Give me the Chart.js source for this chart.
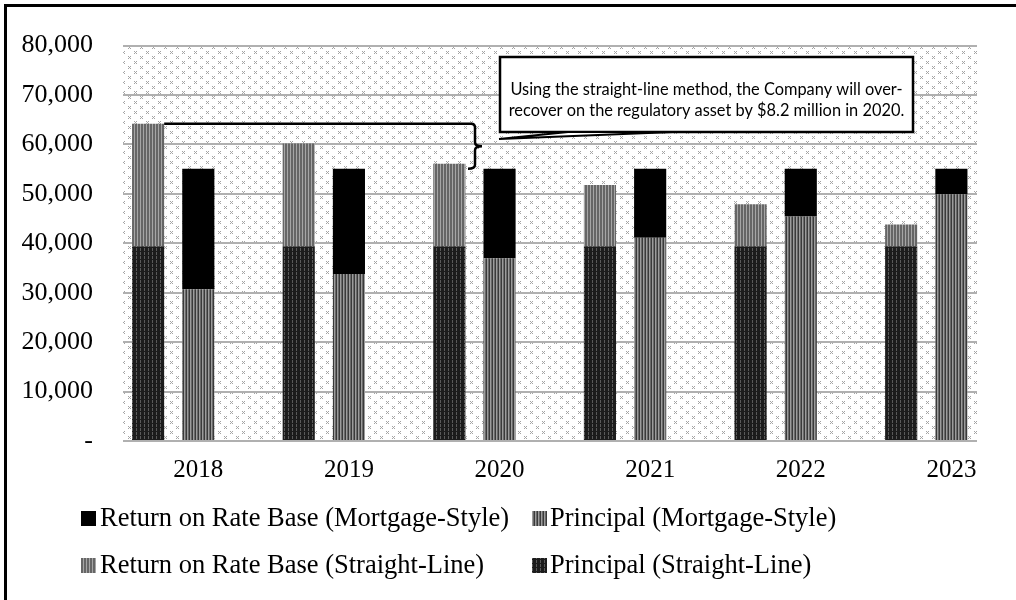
<!DOCTYPE html>
<html>
<head>
<meta charset="utf-8">
<script src="https://cdn.jsdelivr.net/npm/chart.js@4.4.0/dist/chart.umd.min.js"></script>
<style>
html, body { margin: 0; padding: 0; background: #fff; }
#wrap { width: 1016px; height: 600px; position: relative; overflow: hidden; }
</style>
</head>
<body>
<div id="wrap"><canvas id="myChart" width="1016" height="600"></canvas></div>
<script>
'use strict';

// data
const years = [2018, 2019, 2020, 2021, 2022, 2023];
const returnMortgage = [24400, 21300, 18100, 14000, 9700, 5200];
const principalMortgage = [30700, 33800, 37000, 41100, 45400, 49900];
const returnStraight = [24800, 20800, 16700, 12400, 8500, 4400];
const principalStraight = [39400, 39400, 39400, 39400, 39400, 39400];
const yMax = 80000;
const yStep = 10000;
const legendNames = [
    'Return on Rate Base (Mortgage-Style)',
    'Principal (Mortgage-Style)',
    'Return on Rate Base (Straight-Line)',
    'Principal (Straight-Line)'
];
const noteLines = [
    'Using the straight-line method, the Company will over-',
    'recover on the regulatory asset by $8.2 million in 2020.'
];

const canvas = document.getElementById('myChart');
const ctx = canvas.getContext('2d');

// small tiles used as fills
function tile(w, h, draw) {
    const c = document.createElement('canvas');
    c.width = w; c.height = h;
    draw(c.getContext('2d'));
    return ctx.createPattern(c, 'repeat');
}
function stripes(cols) {
    return tile(cols.length, 4, g => {
        cols.forEach((col, i) => { g.fillStyle = col; g.fillRect(i, 0, 1, 4); });
    });
}
const dotsBg = tile(12, 10, g => {
    g.fillStyle = '#fff'; g.fillRect(0, 0, 12, 10);
    g.fillStyle = '#a4a4a4';
    [[2, 1], [8, 6]].forEach(([x, y]) => {
        g.fillRect(x, y, 1, 1); g.fillRect(x + 2, y, 1, 1);
        g.fillRect(x + 1, y + 1, 1, 1);
        g.fillRect(x, y + 2, 1, 1); g.fillRect(x + 2, y + 2, 1, 1);
    });
});
const fillReturnMortgage = '#000';
const fillPrincipalMortgage = stripes(['#3a3a3a', '#9c9c9c', '#6a6a6a']);
const fillReturnStraight = stripes(['#666', '#666', '#a6a6a6']);
const fillPrincipalStraight = tile(4, 4, g => {
    g.fillStyle = '#1c1c1c'; g.fillRect(0, 0, 4, 4);
    g.fillStyle = '#5a5a5a'; g.fillRect(0, 0, 1, 3);
});
const legendFills = [fillReturnMortgage, fillPrincipalMortgage, fillReturnStraight, fillPrincipalStraight];

function pts(arr) {
    return years.map((yr, i) => ({ x: yr, y: arr[i] }));
}

const serif = 'Liberation Serif';

const bgPlugin = {
    id: 'bg',
    beforeDraw(chart) {
        const c = chart.ctx, a = chart.chartArea;
        c.save();
        c.fillStyle = '#fff';
        c.fillRect(0, 0, chart.width, chart.height);
        c.fillStyle = dotsBg;
        c.fillRect(a.left, a.top, a.right - a.left, a.bottom - a.top);
        c.restore();
    }
};

const extrasPlugin = {
    id: 'extras',
    afterDraw(chart) {
        const c = chart.ctx;
        const ys = chart.scales.y;
        c.save();

        // outer frame
        c.fillStyle = '#000';
        c.fillRect(4, 4, 3, 600);
        c.fillRect(4, 4, 1100, 3);

        // bracket from 2018 straight-line top to 2018 mortgage top
        const bar = chart.getDatasetMeta(1).data[0];
        const topY = ys.getPixelForValue(principalStraight[0] + returnStraight[0]);
        const botY = ys.getPixelForValue(principalMortgage[0] + returnMortgage[0]);
        const midY = (topY + botY) / 2;
        const bx = 475;
        c.strokeStyle = '#000';
        c.lineWidth = 2.5;
        c.beginPath();
        c.moveTo(bar.x + bar.width / 2, topY);
        c.lineTo(bx - 4, topY);
        c.quadraticCurveTo(bx, topY, bx, topY + 4);
        c.lineTo(bx, midY - 4);
        c.quadraticCurveTo(bx, midY, bx + 7, midY);
        c.moveTo(bx + 7, midY);
        c.quadraticCurveTo(bx, midY, bx, midY + 4);
        c.lineTo(bx, botY - 4);
        c.quadraticCurveTo(bx, botY, bx - 7, botY);
        c.stroke();

        // callout
        const box = { l: 500, t: 57, w: 413, h: 75 };
        c.fillStyle = '#fff';
        c.fillRect(box.l, box.t, box.w, box.h);
        c.lineWidth = 2.5;
        c.strokeRect(box.l, box.t, box.w, box.h);
        c.beginPath();
        c.moveTo(568, box.t + box.h);
        c.lineTo(499, 139);
        c.lineTo(673, box.t + box.h);
        c.closePath();
        c.fill();
        c.lineWidth = 2;
        c.stroke();
        c.fillStyle = '#000';
        c.font = '16px Lato';
        const w = c.measureText(noteLines[1]).width;
        const fs = 16 * 396 / w;
        c.font = fs.toFixed(2) + 'px Lato';
        c.textAlign = 'center';
        c.textBaseline = 'middle';
        c.fillText(noteLines[0], box.l + box.w / 2, 90);
        c.fillText(noteLines[1], box.l + box.w / 2, 111);

        // legend in two aligned columns
        const cols = [[81, 100], [532, 550]];
        const rows = [518, 565];
        c.textAlign = 'left';
        c.font = '26.5px "' + serif + '"';
        legendNames.forEach((name, i) => {
            const col = cols[i % 2], y = rows[Math.floor(i / 2)];
            c.fillStyle = legendFills[i];
            c.fillRect(col[0], y - 7, 15, 15);
            c.fillStyle = '#000';
            c.fillText(name, col[1], y + 1);
        });
        c.restore();
    }
};

const data = {
    datasets: [
        { label: legendNames[3], data: pts(principalStraight), stack: 'sl', backgroundColor: fillPrincipalStraight },
        { label: legendNames[2], data: pts(returnStraight), stack: 'sl', backgroundColor: fillReturnStraight },
        { label: legendNames[1], data: pts(principalMortgage), stack: 'ms', backgroundColor: fillPrincipalMortgage },
        { label: legendNames[0], data: pts(returnMortgage), stack: 'ms', backgroundColor: fillReturnMortgage },
        { label: '', data: pts(years.map(() => 0)), stack: 'pad', backgroundColor: 'rgba(0,0,0,0)' }
    ]
};

const myChart = new Chart(ctx, {
    type: 'bar',
    data: data,
    options: {
        responsive: false,
        animation: false,
        devicePixelRatio: 1,
        categoryPercentage: 1.0,
        barPercentage: 0.64,
        layout: { padding: { top: 43, right: 39, bottom: 115, left: 0 } },
        plugins: { legend: { display: false }, tooltip: { enabled: false } },
        scales: {
            x: {
                type: 'linear',
                stacked: true,
                min: years[0] - 0.5,
                max: years[years.length - 1] + 0.17,
                offset: false,
                grid: { display: false, drawTicks: false },
                border: { display: false },
                afterBuildTicks: s => { s.ticks = years.map(v => ({ value: v })); },
                afterFit: s => { s.height = 44; },
                ticks: {
                    autoSkip: false,
                    maxRotation: 0,
                    padding: 14,
                    color: '#000',
                    font: { family: serif, size: 25 },
                    callback: v => String(v)
                }
            },
            y: {
                stacked: true,
                min: 0,
                max: yMax,
                grid: { color: '#b0b0b0', lineWidth: 2, drawTicks: false },
                border: { display: false },
                afterFit: s => { s.width = 123; },
                ticks: {
                    stepSize: yStep,
                    padding: 30,
                    color: '#000',
                    font: { family: serif, size: 26 },
                    callback: v => v === 0 ? '-' : v.toLocaleString('en-US')
                }
            }
        }
    },
    plugins: [bgPlugin, extrasPlugin]
});
</script>
</body>
</html>
